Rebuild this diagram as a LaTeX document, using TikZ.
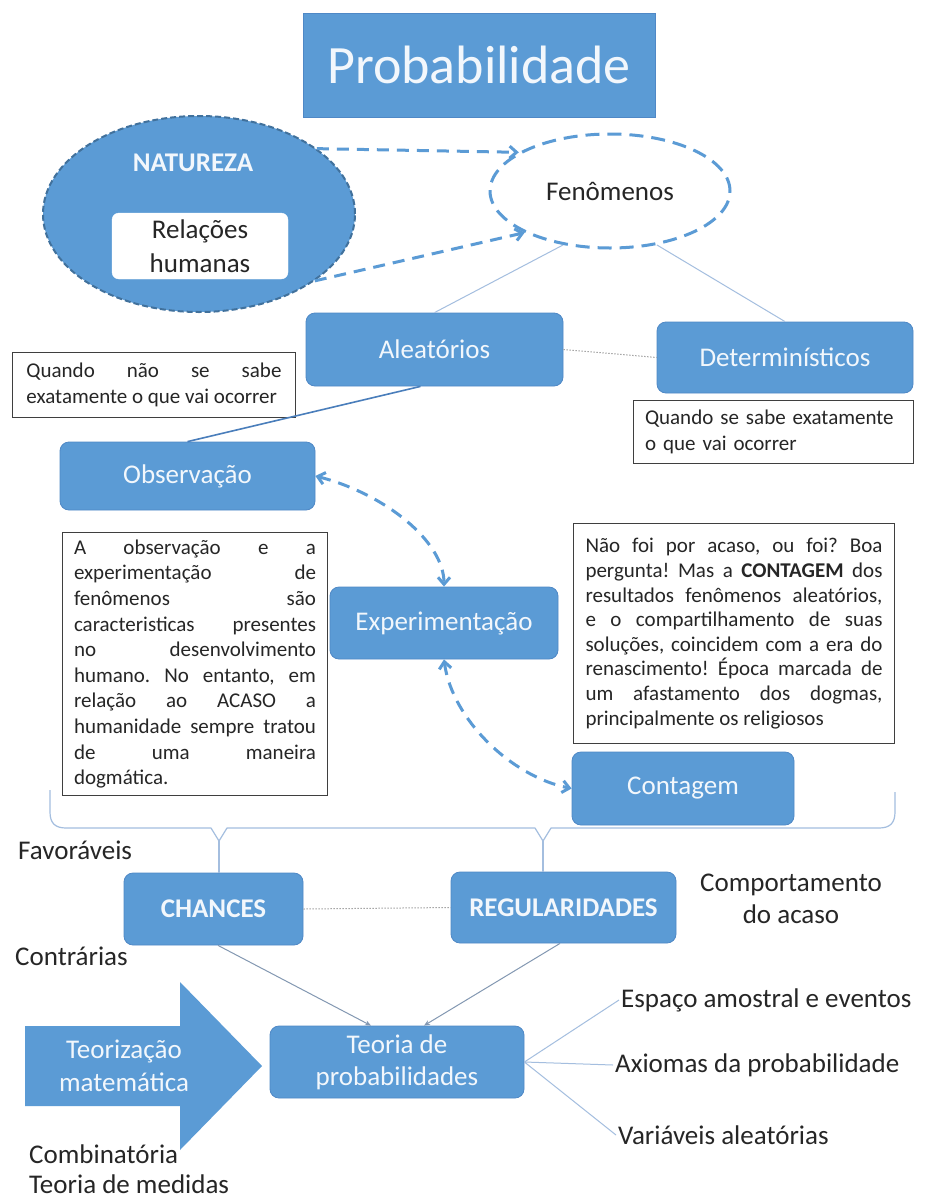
\documentclass[tikz,border=0pt]{standalone}
\usepackage{fontspec}
\setmainfont{Carlito}
\usetikzlibrary{shapes.geometric,arrows.meta}
\definecolor{accent}{HTML}{5B9BD5}
\definecolor{accentdark}{HTML}{41719C}
\definecolor{boxedge}{HTML}{4F88C6}
\definecolor{lighttxt}{HTML}{F2F7FC}
\definecolor{thinblue}{HTML}{A4BEDF}
\definecolor{dotgray}{HTML}{A6A6A6}
\definecolor{strongline}{HTML}{4A7EBB}
\definecolor{boxgray}{HTML}{3F3F3F}
\definecolor{inktext}{HTML}{262626}
\tolerance=10000
\hbadness=10000
\hyphenpenalty=10000
\frenchspacing
\tikzset{
  bluebox/.style={draw=boxedge, line width=0.8pt, fill=accent, rounded corners=9pt,
    text=lighttxt, font=\fontsize{27}{32}\selectfont, inner sep=0pt, align=center},
  bluebold/.style={bluebox, font=\bfseries\fontsize{27}{32}\selectfont},
  titlebox/.style={fill=accent, draw=boxedge, line width=0.6pt, text=lighttxt,
    font=\fontsize{54}{60}\selectfont, minimum width=352pt, minimum height=104pt, inner sep=0pt},
  natell/.style={ellipse, fill=accent, draw=accentdark, line width=2pt,
    dash pattern=on 6pt off 3pt, minimum width=312pt, minimum height=196pt, inner sep=0pt},
  fenell/.style={ellipse, fill=white, draw=accent, line width=3pt,
    dash pattern=on 14pt off 8pt, minimum width=240pt, minimum height=114pt, inner sep=0pt,
    text=inktext, font=\fontsize{27}{32}\selectfont},
  relbox/.style={fill=white, draw=white, rounded corners=7pt, minimum width=176pt,
    minimum height=66pt, inner sep=0pt, align=center, text=inktext,
    font=\fontsize{27}{34}\selectfont},
  txtbox/.style={draw=boxgray, line width=1pt, fill=white, text=inktext,
    font=\fontsize{21}{25.4}\selectfont, inner ysep=5pt},
  plain/.style={font=\fontsize{27}{32}\selectfont, inner sep=2pt, text=inktext},
  dasharrow/.style={accent, line width=3pt, dash pattern=on 12pt off 8pt},
  thinline/.style={thinblue, line width=1pt},
  dotline/.style={dotgray, line width=1pt, dash pattern=on 1.5pt off 1.5pt},
  strongcon/.style={strongline, line width=1.6pt},
  bracel/.style={thinblue, line width=1.2pt, line join=round},
  arrowline/.style={color=thinblue!80!black, line width=1pt, -{Stealth[length=6pt,width=5pt]}},
}
\begin{document}
\begin{tikzpicture}[x=1pt,y=-1pt,>={Straight Barb[length=7pt,width=12pt]}]
\useasboundingbox (0,0) rectangle (924,1202);
\fill[white] (0,0) rectangle (924,1202);

% title
\node[titlebox] (title) at (479,65) {Probabilidade};

% natureza
\node[natell] (nat) at (199,214) {};
\node[font=\bfseries\fontsize{27}{32}\selectfont, text=lighttxt] (natlbl) at (193,163) {NATUREZA};
\node[relbox] (rel) at (200,246) {Relações\\humanas};

% fenomenos
\node[fenell] (fen) at (610,191) {Fenômenos};
\draw[dasharrow,->] (nat.29) -- (fen.157);
\draw[dasharrow,->] (nat.-30) -- (fen.206);

% aleatorios / deterministicos
\node[bluebox, minimum width=257pt, minimum height=73pt] (alea) at (434.5,349.5) {Aleatórios};
\node[bluebox, minimum width=256pt, minimum height=71pt] (det) at (785,357.5) {Determinísticos};
\draw[thinline] (fen.229) -- (alea.north);
\draw[thinline] (fen.-49) -- (det.north);
\draw[dotline] (alea.east) -- (det.west);

\node[txtbox, text width=255pt, inner xsep=14pt, minimum height=65pt, align=justify, anchor=north west]
  (alttxt) at (12,352) {Quando não se sabe\linebreak exatamente o que vai ocorrer};
\node[txtbox, text width=257pt, inner xsep=11.5pt, minimum height=63pt, align=left, anchor=north west]
  (dettxt) at (633,400) {Quando se sabe exatamente\\o que vai ocorrer};

% observacao
\node[bluebox, minimum width=255pt, minimum height=68pt] (obs) at (187.5,476) {Observação};
\draw[strongcon] ([xshift=-14pt]alea.south) -- (obs.north);

\node[txtbox, text width=242pt, inner xsep=11.5pt, minimum height=263pt, align=justify, anchor=north west,
  font=\fontsize{21}{25.6}\selectfont]
  (obstxt) at (62,532) {A observação e a\linebreak experimentação de\linebreak fenômenos são\linebreak
  caracteristicas presentes\linebreak no desenvolvimento\linebreak humano. No entanto, em\linebreak
  relação ao ACASO a\linebreak humanidade sempre tratou\linebreak de uma maneira\linebreak dogmática.};

% experimentacao / contagem
\node[bluebox, minimum width=228pt, minimum height=72pt] (exp) at (444,623) {Experimentação};
\node[txtbox, text width=297pt, inner xsep=12pt, minimum height=220pt, align=justify, anchor=north west,
  font=\fontsize{21}{24.6}\selectfont]
  (conttxt) at (573,523) {Não foi por acaso, ou foi? Boa\linebreak pergunta! Mas a \textbf{CONTAGEM} dos\linebreak
  resultados fenômenos aleatórios,\linebreak e o compartilhamento de suas\linebreak
  soluções, coincidem com a era do\linebreak renascimento! Época marcada de\linebreak
  um afastamento dos dogmas,\linebreak principalmente os religiosos};
\node[bluebox, minimum width=222pt, minimum height=73pt] (cont) at (683,788.5) {Contagem};

\draw[dasharrow,<->] (obs.east) .. controls +(70,18) and +(0,-45) .. (exp.north);
\draw[dasharrow,<->] (exp.south) .. controls +(8,60) and +(-60,-12) .. (cont.west);

% brace
\coordinate (v1) at (219,841);
\coordinate (v2) at (543,841);
\draw[bracel] (50,790) -- (50,812) .. controls (50,823) and (55,828) .. (66,828) -- (211,828) -- (v1) -- (227,828)
  -- (535,828) -- (v2) -- (551,828) -- (879,828) .. controls (890,828) and (895,823) .. (895,812) -- (895,792);

% chances / regularidades
\node[bluebold, minimum width=179pt, minimum height=72pt] (chances) at (213.5,909) {CHANCES};
\node[bluebold, minimum width=225pt, minimum height=71pt] (reg) at (563.5,907.5) {REGULARIDADES};
\draw[bracel] (v1) -- (v1 |- chances.north);
\draw[bracel] (v2) -- (v2 |- reg.north);
\draw[dotline] (chances.east) -- (reg.west);

\node[plain, anchor=west] (fav) at (16,850) {Favoráveis};
\node[plain, anchor=west] (contr) at (13,956) {Contrárias};
\node[plain, align=center] (comp) at (791,899) {Comportamento\\do acaso};

% teoria
\node[bluebox, minimum width=254pt, minimum height=72pt] (teoria) at (397,1062) {Teoria de\\probabilidades};
\draw[arrowline] ([xshift=4.5pt]chances.south) -- ([xshift=-26pt]teoria.north);
\draw[arrowline] ([xshift=-3.5pt]reg.south) -- ([xshift=27pt]teoria.north);

% big arrow
\fill[accent] (25,1026) -- (180,1026) -- (180,982) -- (262,1066) -- (180,1150) -- (180,1106) -- (25,1106) -- cycle;
\node[font=\fontsize{27}{33}\selectfont, text=lighttxt, align=center] (teor) at (124,1066) {Teorização\\matemática};

\node[plain, anchor=west] (comb) at (27,1154) {Combinatória};
\node[plain, anchor=west] (medidas) at (27,1184) {Teoria de medidas};

% right labels
\node[plain, anchor=west] (esp) at (619,1000) {Espaço amostral e eventos};
\node[plain, anchor=west] (axi) at (613,1065) {Axiomas da probabilidade};
\node[plain, anchor=west] (var) at (616,1135) {Variáveis aleatórias};
\draw[thinline] (teoria.east) -- (esp.west);
\draw[thinline] (teoria.east) -- (axi.west);
\draw[thinline] (teoria.east) -- (var.west);
\end{tikzpicture}
\end{document}
